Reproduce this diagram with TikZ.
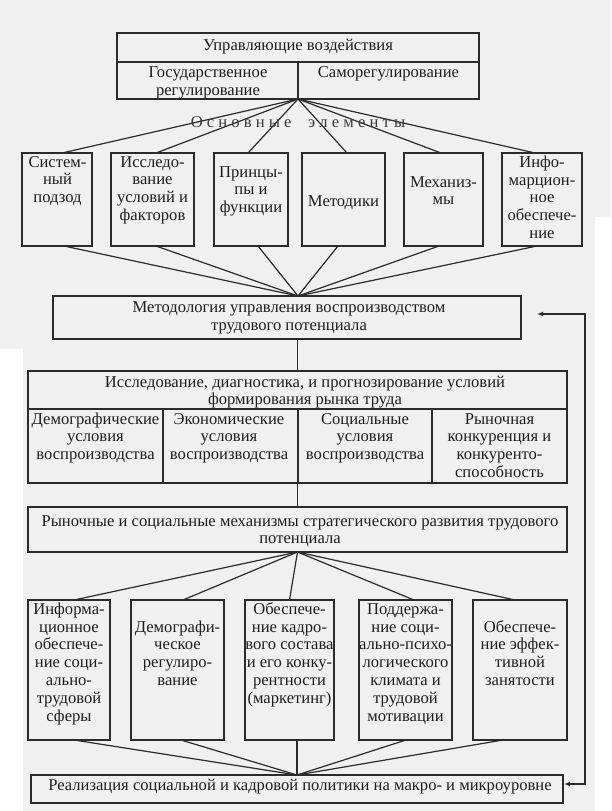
\documentclass[tikz,border=0pt]{standalone}
\usepackage{fontspec}
\setmainfont{Liberation Serif}
\usetikzlibrary{fit,calc,arrows.meta}
\definecolor{bgc}{HTML}{F0F0F0}
\definecolor{linec}{HTML}{2B2B2B}
\definecolor{textc}{HTML}{1E1E1E}
\definecolor{textl}{HTML}{3A3A3A}
\newcommand\fs{\fontsize{12.45pt}{13.4pt}\selectfont}
\tikzset{
  box/.style={draw=linec, line width=1.05pt, inner sep=0pt, outer sep=0pt},
  conn/.style={draw=linec, line width=0.9pt},
  txt/.style={font=\fs, text=textc, align=center, inner sep=0pt, anchor=base},
  fb/.style={box, fit={#1}},
  arr/.style={conn, {Latex[length=4.5pt,width=3.6pt]}-{Latex[length=4.5pt,width=3.6pt]}},
}
\begin{document}
\begin{tikzpicture}[x=0.75pt,y=-0.75pt]
\fill[bgc] (0,0) rectangle (611,811);
\fill[white] (0,349) rectangle (23,811);
\fill[white] (595,217) rectangle (611,811);
\useasboundingbox (0,0) rectangle (611,811);

% top box
\node[fb={(117,33) (479,99)}] (top) {};
\draw[conn] ($(top.north west)+(0,29)$) coordinate (tl) -- ($(top.north east)+(0,29)$) coordinate (tr);
\draw[conn] (top.south) -- ($(top.south)+(0,-37)$) coordinate (tm);
\node[txt] (t0) at (298,50) {Управляющие воздействия};
\node[txt] (t1) at (208,95) {Государственное\\регулирование};
\node[txt] (t2) at (388.5,77) {Саморегулирование};

% six boxes
\node[fb={(22,153) (92,246)}] (b1) {};
\node[fb={(111,153) (194,246)}] (b2) {};
\node[fb={(214,153) (288,246)}] (b3) {};
\node[fb={(302,153) (385,246)}] (b4) {};
\node[fb={(404,153) (483,246)}] (b5) {};
\node[fb={(502,153) (582,246)}] (b6) {};

\node[txt] (bt1) at (57.5,202.8) {Систем-\\ный\\подзод};
\node[txt] (bt2) at (152.5,220.7) {Исследо-\\вание\\условий и\\факторов};
\node[txt] (bt3) at (251,212.8) {Принцы-\\пы и\\функции};
\node[txt] (bt4) at (343.5,206) {Методики};
\node[txt] (bt5) at (443.5,204.9) {Механиз-\\мы};
\node[txt] (bt6) at (542,238.6) {Инфо-\\марцион-\\ное\\обеспече-\\ние};

% fan top -> six
\draw[conn] (top.south) -- ($(b1.north)+(5,0)$);
\draw[conn] (top.south) -- ($(b2.north)+(3.5,0)$);
\draw[conn] (top.south) -- ($(b3.north)+(-3,0)$);
\draw[conn] (top.south) -- ($(b4.north)+(3.5,0)$);
\draw[conn] (top.south) -- ($(b5.north)+(-2.5,0)$);
\draw[conn] (top.south) -- ($(b6.north)+(-7,0)$);
\node[font=\fs, text=textl, inner sep=0pt, anchor=base] (osn) at (298,127)
  {О\ с\ н\ о\ в\ н\ ы\ е\ \ \ \ э\ л\ е\ м\ е\ н\ т\ ы};

% methodology
\node[fb={(53,296) (521,339)}] (meth) {};
\node[txt] (mt) at (289,330) {Методология управления воспроизводством\\трудового потенциала};
\coordinate (ma) at (meth.north -| top.south);
\draw[conn] ($(b1.south)+(7,0)$) -- (ma);
\draw[conn] ($(b2.south)+(3.5,0)$) -- (ma);
\draw[conn] ($(b3.south)+(7,0)$) -- (ma);
\draw[conn] ($(b4.south)+(-5.5,0)$) -- (ma);
\draw[conn] ($(b5.south)+(-4.5,0)$) -- (ma);
\draw[conn] ($(b6.south)+(-5,0)$) -- (ma);

% research box
\node[fb={(28,371) (567,483)}] (res) {};
\draw[conn] (meth.south -| res.north) -- (res.north);
\draw[conn] ($(res.north west)+(0,38)$) -- ($(res.north east)+(0,38)$);
\draw[conn] ($(res.south west)+(135,0)$) -- ($(res.south west)+(135,-74)$);
\draw[conn] ($(res.south west)+(270,0)$) -- ($(res.south west)+(270,-74)$);
\draw[conn] ($(res.south west)+(404,0)$) -- ($(res.south west)+(404,-74)$);
\node[txt] (rt) at (305,404.9) {Исследование, диагностика, и прогнозирование условий\\формирования рынка труда};
\node[txt] (rc1) at (95.5,459.8) {Демографические\\условия\\воспроизводства};
\node[txt] (rc2) at (229,459.8) {Экономические\\условия\\воспроизводства};
\node[txt] (rc3) at (365,459.8) {Социальные\\условия\\воспроизводства};
\node[txt] (rc4) at (499.5,477.7) {Рыночная\\конкуренция и\\конкуренто-\\способность};

% market box
\node[fb={(28,507) (567,552)}] (mkt) {};
\draw[conn] (res.south) -- (mkt.north);
\node[txt] (mk) at (300,543.9) {Рыночные и социальные механизмы стратегического развития трудового\\потенциала};

% five boxes
\node[fb={(28,600) (110,740)}] (c1) {};
\node[fb={(131,600) (224,740)}] (c2) {};
\node[fb={(245,600) (334,740)}] (c3) {};
\node[fb={(359,600) (452,740)}] (c4) {};
\node[fb={(473,600) (567,740)}] (c5) {};
\node[txt] (ct1) at (69,721.4) {Информа-\\ционное\\обеспече-\\ние соци-\\ально-\\трудовой\\сферы};
\node[txt] (ct2) at (177.5,685.7) {Демографи-\\ческое\\регулиро-\\вание};
\node[txt] (ct3) at (289.5,703.5) {Обеспече-\\ние кадро-\\вого состава\\и его конку-\\рентности\\(маркетинг)};
\node[txt] (ct4) at (405.5,721.4) {Поддержа-\\ние соци-\\ально-психо-\\логического\\климата и\\трудовой\\мотивации};
\node[txt] (ct5) at (520,685.7) {Обеспече-\\ние эффек-\\тивной\\занятости};

\draw[conn] (mkt.south) -- ($(c1.north)+(5,0)$);
\draw[conn] (mkt.south) -- ($(c2.north)+(5.5,0)$);
\draw[conn] (mkt.south) -- ($(c3.north)+(0,0)$);
\draw[conn] (mkt.south) -- ($(c4.north)+(8.5,0)$);
\draw[conn] (mkt.south) -- ($(c5.north)+(-5,0)$);

% bottom box
\node[fb={(31,775) (563,803)}] (bot) {};
\node[txt] (btt) at (300,790) {Реализация социальной и кадровой политики на макро- и микроуровне};
\draw[conn] ($(c1.south)+(5,0)$) -- (bot.north);
\draw[conn] ($(c2.south)+(3.5,0)$) -- (bot.north);
\draw[conn] ($(c3.south)+(7.5,0)$) -- (bot.north);
\draw[conn] ($(c4.south)+(0.5,0)$) -- (bot.north);
\draw[conn] ($(c5.south)+(-17,0)$) -- (bot.north);

% feedback arrow
\coordinate (fa1) at (537,314);
\coordinate (fc1) at (585,314);
\coordinate (fc2) at (585,784);
\coordinate (fa2) at (564,784);
\draw[arr] (fa1) -- (fc1) -- (fc2) -- (fa2);
\end{tikzpicture}
\end{document}
